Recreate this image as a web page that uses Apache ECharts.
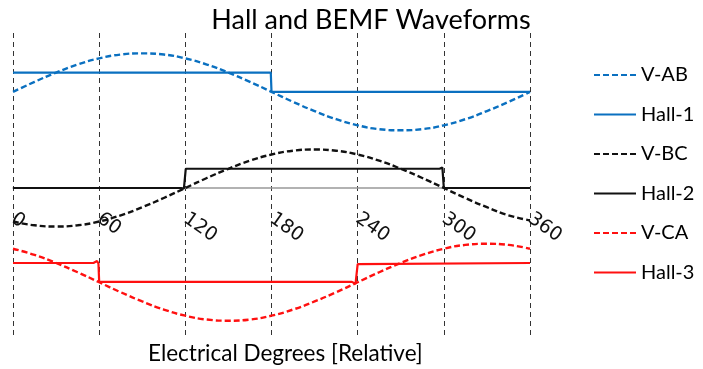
<!DOCTYPE html>
<html><head><meta charset="utf-8">
<script src="https://cdn.jsdelivr.net/npm/echarts@6/dist/echarts.min.js"></script>
<style>html,body{margin:0;padding:0;background:#fff}#c{width:703px;height:369px}</style>
</head><body><div id="c"></div>
<script>
// Electrical degrees (sample positions for the BEMF curves)
const degrees = [0,15,30,45,60,75,90,105,120,135,150,165,180,195,210,225,240,255,270,285,300,315,330,345,360];
const tickLabels = ['0','60','120','180','240','300','360'];
// BEMF waveforms (offset traces)
const vAB = [2.5,2.76,3.0,3.21,3.37,3.47,3.5,3.47,3.37,3.21,3.0,2.76,2.5,2.24,2.0,1.79,1.63,1.53,1.5,1.53,1.63,1.79,2.0,2.24,2.5];
const vBC = [-0.87,-0.97,-1.0,-0.97,-0.87,-0.71,-0.5,-0.26,0,0.26,0.5,0.71,0.87,0.97,1.0,0.97,0.87,0.71,0.5,0.26,0,-0.26,-0.5,-0.71,-0.84];
const vCA = [-1.58,-1.74,-1.95,-2.19,-2.45,-2.71,-2.95,-3.16,-3.32,-3.42,-3.45,-3.42,-3.32,-3.16,-2.95,-2.71,-2.45,-2.19,-1.95,-1.74,-1.58,-1.48,-1.45,-1.48,-1.58];
// Hall sensor signals: [degree, level]
const hall1 = [[0,3.0],[179.5,3.0],[180,2.5],[360,2.5]];
const hall2 = [[0,0],[117,0],[119,-0.02],[120,0.02],[120.3,0.5],[297,0.5],[299,0.53],[299.8,0.5],[300,0],[360,0]];
const hall3 = [[0,-1.95],[56,-1.95],[58.5,-1.9],[59.5,-1.96],[60,-2.44],[236,-2.44],[238.5,-2.49],[239.6,-2.44],[240,-1.98],[241,-1.94],[360,-1.95]];
const seriesNames = ['V-AB','Hall-1','V-BC','Hall-2','V-CA','Hall-3'];

const zip = (ys) => degrees.map((d,i)=>[d, ys[i]]);
const blue = '#0a70c0', black = '#111', red = '#ff1010';
const dashed = (name, data, color) => ({name, type:'line', data: zip(data), smooth:true, symbol:'none',
  lineStyle:{color, width:2.4, type:[6,3]}, itemStyle:{color}, z:3});
const solid = (name, data, color) => ({name, type:'line', data, symbol:'none',
  lineStyle:{color, width:2.2}, itemStyle:{color}, z:4});

const chart = echarts.init(document.getElementById('c'), null, {renderer:'canvas'});
chart.setOption({
  animation:false,
  backgroundColor:'#fff',
  title:{text:'Hall and BEMF Waveforms', left:366, textAlign:'center', top:2,
    textStyle:{fontFamily:'Lato', fontSize:27, fontWeight:'normal', color:'#000'}},
  grid:[
    {left:13, right:173, top:33, bottom:31, outerBoundsMode:'none', containLabel:false},
    {left:13, right:173, top:33, bottom:181, outerBoundsMode:'none', containLabel:false}
  ],
  xAxis:[
    {type:'value', gridIndex:0, min:0, max:360, interval:60,
      axisLine:{show:false}, axisTick:{show:false}, axisLabel:{show:false},
      splitLine:{show:true, lineStyle:{color:'#333', width:1, type:[5,4]}}},
    {type:'value', gridIndex:1, min:0, max:360, interval:60,
      axisLine:{show:true, onZero:false, lineStyle:{color:'#999', width:1.5}},
      axisTick:{show:false}, splitLine:{show:false},
      axisLabel:{rotate:-35, margin:29, fontFamily:'DejaVu Sans', fontSize:19, color:'#111',
        formatter:(v)=>tickLabels[Math.round(v/60)]}}
  ],
  yAxis:[
    {type:'value', gridIndex:0, min:-3.9, max:4.03, show:false, splitLine:{show:false}},
    {type:'value', gridIndex:1, min:0, max:1, show:false, splitLine:{show:false}}
  ],
  legend:{orient:'vertical', left:588, top:60, itemWidth:42, itemHeight:20, itemGap:19.5,
    data:seriesNames, itemStyle:{opacity:0},
    textStyle:{fontFamily:'Lato', fontSize:20, color:'#000'}},
  graphic:[{type:'text', left:148, top:342,
    style:{text:'Electrical Degrees [Relative]', font:'22.5px Lato', fill:'#000'}}],
  series:[
    dashed('V-AB', vAB, blue),
    solid('Hall-1', hall1, blue),
    dashed('V-BC', vBC, black),
    solid('Hall-2', hall2, black),
    dashed('V-CA', vCA, red),
    solid('Hall-3', hall3, red)
  ]
});
</script></body></html>
